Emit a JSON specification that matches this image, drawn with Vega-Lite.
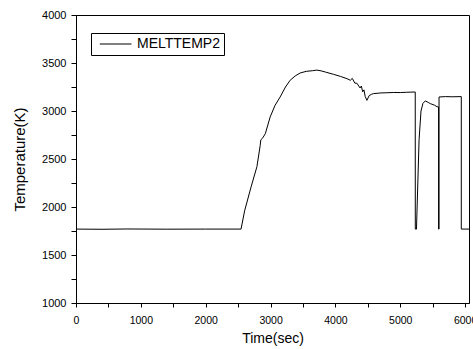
{
  "$schema": "https://vega.github.io/schema/vega-lite/v6.json",
  "width": 393,
  "height": 288,
  "autosize": "none",
  "padding": {"left": 76, "top": 15, "right": 4, "bottom": 46},
  "background": "white",
  "config": {
    "view": {"stroke": "black", "strokeWidth": 1},
    "axis": {"domainColor": "black", "tickColor": "black"}
  },
  "data": {
    "values": [
      {"i": 1, "t": 0, "temp": 1770},
      {"i": 2, "t": 400, "temp": 1768},
      {"i": 3, "t": 800, "temp": 1771},
      {"i": 4, "t": 1400, "temp": 1769},
      {"i": 5, "t": 2000, "temp": 1770},
      {"i": 6, "t": 2545, "temp": 1770},
      {"i": 7, "t": 2600, "temp": 1960},
      {"i": 8, "t": 2700, "temp": 2210},
      {"i": 9, "t": 2790, "temp": 2420},
      {"i": 10, "t": 2840, "temp": 2640},
      {"i": 11, "t": 2850, "temp": 2700},
      {"i": 12, "t": 2880, "temp": 2720},
      {"i": 13, "t": 2920, "temp": 2765},
      {"i": 14, "t": 2994, "temp": 2938},
      {"i": 15, "t": 3070, "temp": 3060},
      {"i": 16, "t": 3148, "temp": 3146},
      {"i": 17, "t": 3230, "temp": 3250},
      {"i": 18, "t": 3302, "temp": 3320},
      {"i": 19, "t": 3380, "temp": 3365},
      {"i": 20, "t": 3457, "temp": 3396},
      {"i": 21, "t": 3550, "temp": 3413},
      {"i": 22, "t": 3650, "temp": 3420},
      {"i": 23, "t": 3714, "temp": 3426},
      {"i": 24, "t": 3780, "temp": 3418},
      {"i": 25, "t": 3850, "temp": 3405},
      {"i": 26, "t": 3971, "temp": 3382},
      {"i": 27, "t": 4080, "temp": 3360},
      {"i": 28, "t": 4178, "temp": 3337},
      {"i": 29, "t": 4230, "temp": 3320},
      {"i": 30, "t": 4260, "temp": 3340},
      {"i": 31, "t": 4300, "temp": 3290},
      {"i": 32, "t": 4331, "temp": 3290},
      {"i": 33, "t": 4380, "temp": 3240},
      {"i": 34, "t": 4400, "temp": 3260},
      {"i": 35, "t": 4420, "temp": 3200},
      {"i": 36, "t": 4440, "temp": 3220},
      {"i": 37, "t": 4460, "temp": 3150},
      {"i": 38, "t": 4486, "temp": 3111},
      {"i": 39, "t": 4520, "temp": 3160},
      {"i": 40, "t": 4560, "temp": 3175},
      {"i": 41, "t": 4588, "temp": 3181},
      {"i": 42, "t": 4700, "temp": 3188},
      {"i": 43, "t": 4794, "temp": 3190},
      {"i": 44, "t": 4900, "temp": 3193},
      {"i": 45, "t": 5000, "temp": 3192},
      {"i": 46, "t": 5100, "temp": 3195},
      {"i": 47, "t": 5231, "temp": 3198},
      {"i": 48, "t": 5232, "temp": 1770},
      {"i": 49, "t": 5250, "temp": 1770},
      {"i": 50, "t": 5290, "temp": 2700},
      {"i": 51, "t": 5320, "temp": 3000},
      {"i": 52, "t": 5350, "temp": 3080},
      {"i": 53, "t": 5386, "temp": 3105},
      {"i": 54, "t": 5430, "temp": 3090},
      {"i": 55, "t": 5463, "temp": 3077},
      {"i": 56, "t": 5530, "temp": 3060},
      {"i": 57, "t": 5566, "temp": 3045},
      {"i": 58, "t": 5591, "temp": 3042},
      {"i": 59, "t": 5591, "temp": 1770},
      {"i": 60, "t": 5598, "temp": 1770},
      {"i": 61, "t": 5598, "temp": 3146},
      {"i": 62, "t": 5700, "temp": 3150},
      {"i": 63, "t": 5800, "temp": 3148},
      {"i": 64, "t": 5941, "temp": 3150},
      {"i": 65, "t": 5941, "temp": 1770},
      {"i": 66, "t": 6060, "temp": 1770}
    ]
  },
  "mark": {"type": "line", "strokeWidth": 1},
  "encoding": {
    "x": {
      "field": "t", "type": "quantitative",
      "scale": {"domain": [0, 6060], "nice": false, "zero": false},
      "axis": {
        "grid": false,
        "tickColor": "black",
        "values": [0, 500, 1000, 1500, 2000, 2500, 3000, 3500, 4000, 4500, 5000, 5500, 6000],
        "labelExpr": "datum.value % 1000 === 0 ? format(datum.value, 'd') : ''",
        "tickSize": 4,
        "labelPadding": 8,
        "labelFont": "Liberation Sans",
        "labelFontSize": 10.5,
        "labelColor": "black",
        "labelFlush": false,
        "labelOverlap": false,
        "title": "Time(sec)",
        "titleFont": "Liberation Sans",
        "titleFontSize": 14,
        "titleFontWeight": "normal",
        "titleColor": "black",
        "titlePadding": 6
      }
    },
    "y": {
      "field": "temp", "type": "quantitative",
      "scale": {"domain": [1000, 4000], "nice": false, "zero": false},
      "axis": {
        "grid": false,
        "tickColor": "black",
        "values": [1000, 1250, 1500, 1750, 2000, 2250, 2500, 2750, 3000, 3250, 3500, 3750, 4000],
        "labelExpr": "datum.value % 500 === 0 ? format(datum.value, 'd') : ''",
        "tickSize": 5,
        "labelPadding": 5,
        "labelFont": "Liberation Sans",
        "labelFontSize": 11,
        "labelColor": "black",
        "labelFlush": false,
        "labelOverlap": false,
        "title": "Temperature(K)",
        "titleFont": "Liberation Sans",
        "titleFontSize": 15,
        "titleFontWeight": "normal",
        "titleColor": "black",
        "titlePadding": 14
      }
    },
    "order": {"field": "i", "type": "quantitative"},
    "color": {
      "datum": "MELTTEMP2",
      "type": "nominal",
      "scale": {"range": ["black"]},
      "legend": {
        "orient": "none",
        "legendX": 15,
        "legendY": 18,
        "title": null,
        "strokeColor": "black",
        "fillColor": "white",
        "padding": 4,
        "cornerRadius": 0,
        "symbolType": "M-0.4,0H5.36",
        "symbolSize": 121,
        "symbolStrokeWidth": 1,
        "symbolStrokeColor": "black",
        "labelFont": "Liberation Sans",
        "labelFontSize": 14,
        "labelColor": "black",
        "labelOffset": 28,
        "labelExpr": "datum.label + '\u2002'"
      }
    }
  }
}
